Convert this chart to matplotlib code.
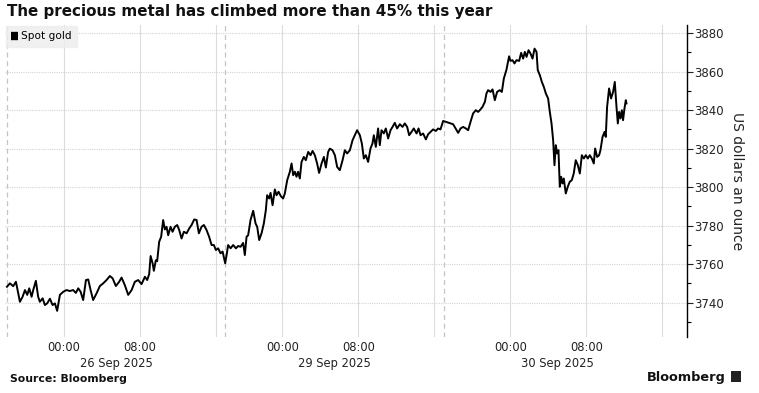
import matplotlib.pyplot as plt
from matplotlib.ticker import MultipleLocator
from matplotlib.patches import Rectangle

# hours on a compressed axis: 0 = 26 Sep 00:00, weekend removed (29 Sep 00:00 = 23)
hours = [
    -6.0, -5.68, -5.34, -5.05, -4.92, -4.63, -4.35, -4.1, -3.86, -3.65, -3.4, -3.23,
    -2.95, -2.71, -2.53, -2.24, -2.0, -1.76, -1.47, -1.19, -0.95, -0.71, -0.42, -0.07,
    0.28, 0.63, 0.98, 1.26, 1.51, 1.76, 2.03, 2.32, 2.56, 2.81, 3.08, 3.44, 3.79, 4.14,
    4.49, 4.84, 5.13, 5.47, 5.82, 6.07, 6.42, 6.77, 7.13, 7.47, 7.82, 8.18, 8.53, 8.77,
    8.98, 9.13, 9.34, 9.47, 9.68, 9.82, 10.03, 10.24, 10.45, 10.63, 10.81, 10.98, 11.23,
    11.44, 11.68, 11.93, 12.14, 12.39, 12.63, 12.92, 13.19, 13.44, 13.72, 13.97, 14.21,
    14.49, 14.74, 15.02, 15.29, 15.55, 15.79, 16.0, 16.24, 16.49, 16.71, 16.98,
    17.13, 17.29, 17.55, 17.82, 18.11, 18.35, 18.6, 18.87, 19.05, 19.23, 19.4, 19.65,
    19.93, 20.18, 20.35, 20.56, 20.81, 21.05, 21.26, 21.4, 21.61, 21.76, 21.97, 22.21,
    22.39, 22.6, 22.84, 23.08, 23.26, 23.51, 23.79, 23.97, 24.14, 24.32, 24.49, 24.66,
    24.84, 25.02, 25.26, 25.47, 25.72, 25.97, 26.18, 26.42, 26.66, 26.87, 27.13, 27.37,
    27.58, 27.82, 28.0, 28.28, 28.53, 28.77, 29.05, 29.34, 29.58, 29.82, 30.11, 30.39,
    30.63, 30.87, 31.16, 31.37, 31.58, 31.79, 32.03, 32.28, 32.49, 32.63, 32.84, 33.08,
    33.26, 33.44, 33.68, 33.89, 34.14, 34.39, 34.6, 34.84, 35.08, 35.37, 35.65, 35.89,
    36.14, 36.35, 36.6, 36.84, 37.13, 37.34, 37.55, 37.82, 38.11, 38.35, 38.6, 38.87,
    39.16, 39.4, 39.65, 39.93,
    40.98, 41.34, 41.51, 41.76, 42.03, 42.32, 42.56, 42.81, 43.08, 43.37, 43.61, 43.79,
    44.07, 44.32, 44.49, 44.66, 44.92, 45.13, 45.37, 45.61, 45.89, 46.11, 46.32, 46.6,
    46.87, 47.02, 47.23, 47.44, 47.65, 47.93, 48.14, 48.35, 48.53, 48.71, 48.92, 49.13,
    49.34, 49.55, 49.76, 49.89, 50.11, 50.32, 50.53, 50.74, 50.98, 51.16, 51.34, 51.51,
    51.65, 51.79, 51.93, 52.07, 52.21, 52.35, 52.49, 52.63, 52.84, 53.05, 53.26, 53.47,
    53.68, 53.89, 54.11, 54.32, 54.53, 54.74, 54.95, 55.16, 55.37, 55.58, 55.79, 55.93,
    56.14, 56.35, 56.49, 56.71, 56.92, 57.05, 57.19, 57.4, 57.61, 57.82, 58.0, 58.18,
    58.32, 58.45, 58.6, 58.74, 58.87, 59.02, 59.16, 59.23,
]
price = [
    3748.2, 3750.0, 3748.5, 3750.8, 3747.5, 3740.4, 3743.0, 3746.5, 3744.0, 3747.4, 3743.0, 3746.5,
    3751.3, 3743.0, 3740.4, 3742.2, 3738.7, 3739.6, 3742.0, 3738.7, 3739.6, 3735.7, 3744.0, 3745.6,
    3746.5, 3746.0, 3746.5, 3745.0, 3747.4, 3745.6, 3741.3, 3751.7, 3752.0, 3746.5, 3741.3, 3744.8, 3748.6, 3750.0,
    3751.7, 3753.8, 3752.6, 3748.6, 3750.8, 3753.0, 3749.0, 3744.0, 3746.5, 3750.8, 3751.7, 3749.6, 3753.4, 3751.7,
    3754.8, 3764.2, 3760.4, 3756.5, 3762.0, 3761.5, 3771.6, 3774.2, 3782.9, 3778.0, 3779.4, 3775.0, 3779.4,
    3776.8, 3779.4, 3780.3, 3777.7, 3773.3, 3776.8, 3776.0, 3778.5, 3780.3, 3783.2, 3782.9, 3776.0,
    3779.4, 3780.3, 3777.7, 3774.2, 3769.9, 3769.9, 3767.3, 3768.2, 3765.6, 3766.5, 3760.4,
    3764.7, 3769.9, 3768.2, 3769.9, 3768.2, 3769.4, 3769.0, 3771.0, 3764.7, 3774.2, 3775.0, 3782.9,
    3787.7, 3781.1, 3779.4, 3772.5, 3776.0, 3781.1, 3788.0, 3795.8, 3794.1, 3797.0, 3790.6, 3798.8,
    3795.8, 3797.6, 3795.3, 3794.1, 3796.7, 3803.6, 3808.0, 3812.3, 3806.2, 3808.0, 3805.4, 3808.0,
    3804.5, 3813.1, 3815.7, 3814.0, 3818.3, 3816.6, 3818.8, 3816.6, 3812.3, 3807.4, 3812.3, 3815.7,
    3810.2, 3818.3, 3820.0, 3819.2, 3816.6, 3810.5, 3808.8, 3814.0, 3819.2, 3817.5, 3819.2, 3824.4,
    3827.0, 3829.6, 3827.0, 3822.7, 3814.9, 3816.6, 3813.1, 3820.1, 3822.7, 3827.0, 3820.9, 3830.5,
    3821.8, 3829.6, 3827.9, 3830.5, 3825.3, 3829.6, 3831.3, 3833.4, 3830.5, 3832.7, 3831.3, 3833.1,
    3831.3, 3827.0, 3828.7, 3830.5, 3827.9, 3830.5, 3827.0, 3827.9, 3824.8, 3827.5, 3828.7, 3830.0,
    3829.2, 3830.5, 3830.0, 3834.4,
    3832.7, 3829.6, 3828.2, 3830.5, 3831.3, 3830.5, 3829.6, 3833.9, 3838.3, 3840.0, 3839.1, 3840.0,
    3841.7, 3844.3, 3848.7, 3850.4, 3849.5, 3850.8, 3845.2, 3849.5, 3850.4, 3849.5, 3856.5, 3861.1,
    3868.0, 3865.6, 3866.0, 3864.3, 3866.0, 3865.6, 3869.8, 3866.8, 3870.3, 3867.7, 3871.2, 3869.4,
    3866.8, 3872.0, 3870.3, 3860.8, 3858.2, 3854.7, 3852.1, 3848.7, 3846.1, 3839.1, 3833.1, 3824.4,
    3811.4, 3821.8, 3817.5, 3819.2, 3800.2, 3805.4, 3801.9, 3804.5, 3796.7, 3800.2, 3802.8, 3803.6,
    3807.1, 3814.0, 3811.4, 3807.1, 3816.6, 3814.9, 3816.6, 3814.9, 3816.6, 3814.9, 3812.3, 3820.1,
    3815.7, 3816.6, 3819.2, 3826.1, 3828.7, 3826.1, 3841.7, 3851.3, 3846.1, 3849.5, 3854.7, 3841.7,
    3833.1, 3839.1, 3835.7, 3840.0, 3834.8, 3840.9, 3845.2, 3843.5,
]

tick_hours = [0, 8, 23, 31, 47, 55]
tick_labels = ["00:00", "08:00", "00:00", "08:00", "00:00", "08:00"]
grid_hours = [0, 8, 16, 23, 31, 39, 47, 55, 63]
session_breaks = [-6, 17, 40]
day_labels = ["26 Sep 2025", "29 Sep 2025", "30 Sep 2025"]
day_centres = [5.5, 28.5, 52.0]
y_ticks = [3740, 3760, 3780, 3800, 3820, 3840, 3860, 3880]

plt.rcParams['font.family'] = ['DejaVu Sans']

fig = plt.figure(figsize=(7.59, 3.93), dpi=100)
ax = fig.add_axes([0.0066, 0.1425, 0.8985, 0.7935])

for h in grid_hours:
    ax.axvline(h, color='#dcdcdc', lw=0.8, zorder=0)
for h in session_breaks:
    ax.axvline(h, color='#c4c4c4', lw=0.9, dashes=(4, 3), zorder=0)
for v in y_ticks:
    ax.axhline(v, color='#d4d4d4', lw=0.8, dashes=(1, 1), zorder=0)

ax.plot(hours, price, color='black', lw=1.4, label='Spot gold', zorder=3)

ax.set_xlim(-6.2, 65.6)
ax.set_ylim(3722.1, 3884.2)

ax.set_xticks(tick_hours)
ax.set_xticklabels(tick_labels)
ax.tick_params(axis='x', length=0, pad=3, labelsize=8.3, colors='#222222')

ax.yaxis.tick_right()
ax.yaxis.set_label_position('right')
ax.set_yticks(y_ticks)
ax.yaxis.set_minor_locator(MultipleLocator(10))
ax.tick_params(axis='y', which='major', length=4, width=0.8, pad=1.5, labelsize=8.5, colors='#222222')
ax.tick_params(axis='y', which='minor', length=3, width=0.8)
ax.set_ylabel('US dollars an ounce', rotation=270, labelpad=14, fontsize=10, color='#222222')

for s in ['top', 'left', 'bottom']:
    ax.spines[s].set_visible(False)
ax.spines['right'].set_linewidth(1.0)

for lab, c in zip(day_labels, day_centres):
    ax.annotate(lab, xy=(c, 0), xycoords=('data', 'axes fraction'),
                xytext=(0, -14.5), textcoords='offset points',
                ha='center', va='top', fontsize=8.3, color='#222222')

leg = ax.legend(loc='upper left', bbox_to_anchor=(0.0, 1.0), frameon=True,
                fancybox=False, handlelength=0.6, handleheight=0.6, handletextpad=0.3,
                borderpad=0.55, fontsize=7.6, borderaxespad=0.05)
leg.get_frame().set_facecolor('#ededed')
leg.get_frame().set_edgecolor('#ededed')
for hnd in leg.legend_handles:
    hnd.set_linewidth(6)
    hnd.set_solid_capstyle('butt')

fig.text(0.009, 0.972, 'The precious metal has climbed more than 45% this year',
         fontsize=10.9, fontweight='bold', va='center', ha='left', color='#111111')
fig.text(0.013, 0.035, 'Source: Bloomberg', fontsize=7.8, fontweight='bold',
         va='center', ha='left', color='#111111')
fig.text(0.956, 0.04, 'Bloomberg', fontsize=9.3, fontweight='bold',
         va='center', ha='right', color='#111111')
fig.patches.append(Rectangle((0.963, 0.028), 0.013, 0.028, transform=fig.transFigure,
                             facecolor='#222222', edgecolor='none'))

fig.savefig('out.png', dpi=100)
